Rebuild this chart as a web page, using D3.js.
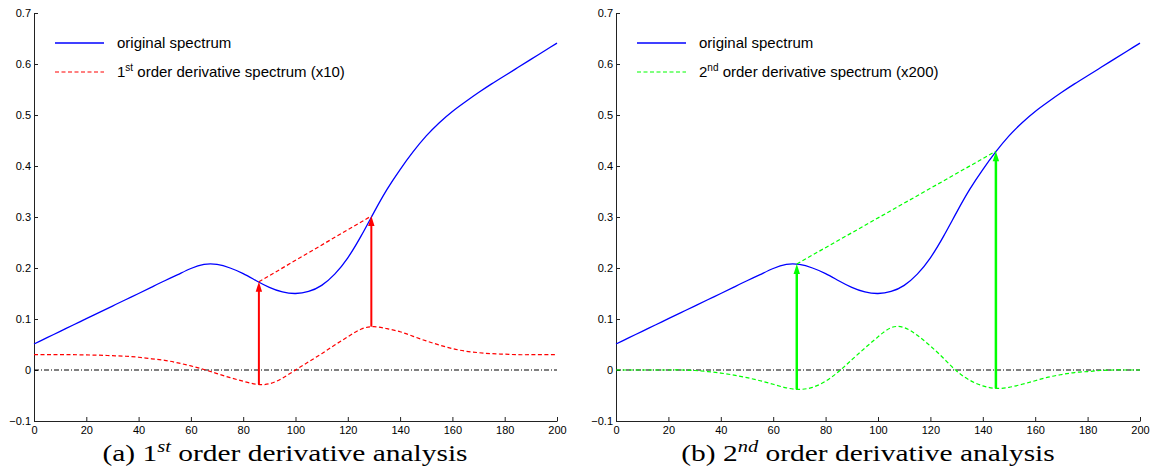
<!DOCTYPE html>
<html>
<head>
<meta charset="utf-8">
<script src="https://cdn.jsdelivr.net/npm/d3@7.9.0/dist/d3.min.js"></script>
<style>
  body { margin: 0; background: #fff; }
  svg { display: block; font-family: "Liberation Sans", Arial, sans-serif; }
  .axis path, .axis line { stroke: #222; stroke-width: 1; }
  .axis text { font-size: 11px; fill: #000; font-family: "Liberation Sans", Arial, sans-serif; }
  .legend text { font-size: 15px; }
  .caption { font-family: "Liberation Serif", "DejaVu Serif", serif; font-size: 23px; }
</style>
</head>
<body>
<svg id="chart" width="1155" height="475"></svg>
<script>
// ========== Data ==========
const xs = [0, 5, 10, 15, 20, 25, 30, 35, 40, 45, 50, 55, 60, 65, 70, 75, 80, 85, 90, 95, 100,
            105, 110, 115, 120, 125, 130, 135, 140, 145, 150, 155, 160, 165, 170, 175, 180, 185, 190, 195, 200];

const origY = [0.051, 0.0634, 0.0758, 0.0882, 0.1006, 0.113, 0.1254, 0.1378, 0.150, 0.1625, 0.175, 0.187, 0.199, 0.207, 0.207, 0.200, 0.189, 0.175, 0.162, 0.153, 0.150,
               0.154, 0.166, 0.188, 0.220, 0.262, 0.309, 0.354, 0.393, 0.428, 0.459, 0.485, 0.507, 0.526, 0.544, 0.561, 0.577, 0.593, 0.609, 0.625, 0.641];

// 1st order derivative spectrum (x10)
const d1Y = [0.030, 0.030, 0.030, 0.030, 0.0295, 0.029, 0.028, 0.027, 0.025, 0.022, 0.019, 0.014, 0.008, 0.001, -0.007, -0.015, -0.022, -0.028, -0.027, -0.016, 0.000,
             0.016, 0.032, 0.049, 0.065, 0.080, 0.085, 0.081, 0.075, 0.066, 0.057, 0.049, 0.042, 0.037, 0.034, 0.032, 0.031, 0.030, 0.030, 0.030, 0.030];

// 2nd order derivative spectrum (x200)
const d2Y = [0, 0, 0, 0, 0, 0, -0.001, -0.003, -0.006, -0.010, -0.015, -0.021, -0.028, -0.035, -0.038, -0.034, -0.022, -0.003, 0.020, 0.043, 0.065,
             0.083, 0.083, 0.068, 0.047, 0.023, -0.002, -0.020, -0.031, -0.036, -0.034, -0.028, -0.021, -0.014, -0.009, -0.005, -0.003, -0.001, 0, 0, 0];

// analysis points: x position, derivative value, spectrum value
const pts1X = [86, 129];
const pts1D = [-0.028, 0.085];
const pts1S = [0.173, 0.302];
const pts2X = [69, 145];
const pts2D = [-0.038, -0.036];
const pts2S = [0.208, 0.429];

const xTicks = [0, 20, 40, 60, 80, 100, 120, 140, 160, 180, 200];
const yTicks = [-0.1, 0, 0.1, 0.2, 0.3, 0.4, 0.5, 0.6, 0.7];

const svg = d3.select('#chart');

const panels = [
  { left: 34, right: 557, color: '#ff0000', dy: d1Y, px: pts1X, pd: pts1D, ps: pts1S,
    ord: '1', sup: 'st', mult: '(x10)', tag: '(a)', capCenter: 285, arrowW: 2 },
  { left: 616, right: 1140, color: '#00ff00', dy: d2Y, px: pts2X, pd: pts2D, ps: pts2S,
    ord: '2', sup: 'nd', mult: '(x200)', tag: '(b)', capCenter: 868, arrowW: 2.5 }
];

panels.forEach(drawPanel);

// ========== Panel ==========
function drawPanel(p) {
  const x = d3.scaleLinear().domain([0, 200]).range([p.left, p.right]);
  const y = d3.scaleLinear().domain([-0.1, 0.7]).range([421, 13]);
  const g = svg.append('g');

  // axes (ticks pointing inward)
  g.append('g').attr('class', 'axis')
    .attr('transform', `translate(0,${y(-0.1)})`)
    .call(d3.axisBottom(x).tickValues(xTicks).tickSizeInner(-4).tickSizeOuter(0).tickPadding(5));
  g.append('g').attr('class', 'axis')
    .attr('transform', `translate(${x(0)},0)`)
    .call(d3.axisLeft(y).tickValues(yTicks).tickSizeInner(-4).tickSizeOuter(0).tickPadding(3)
      .tickFormat(d => Math.abs(d) < 1e-9 ? '0' : d3.format('.1f')(d)));

  // zero line (dash-dot)
  g.append('line')
    .attr('x1', x(0)).attr('x2', x(200))
    .attr('y1', y(0)).attr('y2', y(0))
    .attr('stroke', '#000').attr('stroke-width', 1)
    .attr('stroke-dasharray', '5,2,1,2');

  const line = d3.line().curve(d3.curveNatural);

  // original spectrum
  g.append('path')
    .attr('d', line(xs.map((v, i) => [x(v), y(origY[i])])))
    .attr('fill', 'none').attr('stroke', '#0000ff').attr('stroke-width', 1.3);

  // derivative spectrum
  g.append('path')
    .attr('d', line(xs.map((v, i) => [x(v), y(p.dy[i])])))
    .attr('fill', 'none').attr('stroke', p.color).attr('stroke-width', 1.2)
    .attr('stroke-dasharray', '4,2.5');

  // connecting dashed line between analysis points
  g.append('line')
    .attr('x1', x(p.px[0])).attr('y1', y(p.ps[0]))
    .attr('x2', x(p.px[1])).attr('y2', y(p.ps[1]))
    .attr('stroke', p.color).attr('stroke-width', 1.2)
    .attr('stroke-dasharray', '4,2.5');

  // arrows
  p.px.forEach((v, i) => {
    const ax = x(v), top = y(p.ps[i]), bot = y(p.pd[i]);
    g.append('line')
      .attr('x1', ax).attr('x2', ax)
      .attr('y1', bot).attr('y2', top + 8)
      .attr('stroke', p.color).attr('stroke-width', p.arrowW);
    g.append('path')
      .attr('d', `M${ax},${top} L${ax - 3.2},${top + 10} L${ax + 3.2},${top + 10} Z`)
      .attr('fill', p.color);
  });

  // legend
  const lg = g.append('g').attr('class', 'legend');
  const lx0 = x(0) + 21, lx1 = x(0) + 70, tx = x(0) + 83;
  lg.append('line').attr('x1', lx0).attr('x2', lx1).attr('y1', 43).attr('y2', 43)
    .attr('stroke', '#0000ff').attr('stroke-width', 1.3);
  lg.append('text').attr('x', tx).attr('y', 43).attr('dy', '0.35em').text('original spectrum');
  lg.append('line').attr('x1', lx0).attr('x2', lx1).attr('y1', 72).attr('y2', 72)
    .attr('stroke', p.color).attr('stroke-width', 1.2).attr('stroke-dasharray', '4,2.5');
  const t2 = lg.append('text').attr('x', tx).attr('y', 72).attr('dy', '0.35em');
  t2.append('tspan').text(p.ord);
  t2.append('tspan').attr('font-size', '10px').attr('dy', '-6').text(p.sup);
  t2.append('tspan').attr('dy', '6').text(` order derivative spectrum ${p.mult}`);

  // caption (reference is stretched horizontally)
  const cap = svg.append('text').attr('class', 'caption')
    .attr('transform', `translate(${p.capCenter},461) scale(1.28,1)`)
    .attr('text-anchor', 'middle');
  cap.append('tspan').text(`${p.tag} ${p.ord}`);
  cap.append('tspan').attr('font-size', '16px').attr('font-style', 'italic').attr('dy', '-9').text(p.sup);
  cap.append('tspan').attr('dy', '9').text(' order derivative analysis');
}
</script>
</body>
</html>
